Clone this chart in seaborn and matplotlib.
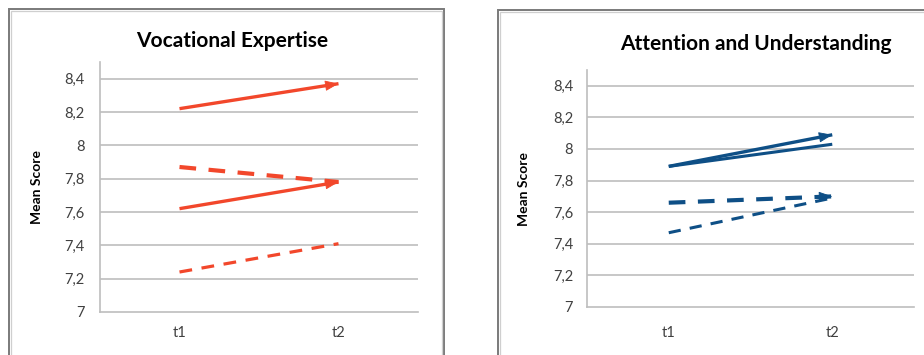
import matplotlib
matplotlib.use("Agg")
import matplotlib.pyplot as plt
from matplotlib.patches import Rectangle
import seaborn as sns

# ---- data -------------------------------------------------------------
time_points = ["t1", "t2"]

voc_solid_high = [8.22, 8.37]
voc_dash_high = [7.87, 7.78]
voc_solid_low = [7.62, 7.78]
voc_dash_low = [7.24, 7.41]

att_solid_arrow = [7.89, 8.09]
att_solid = [7.89, 8.03]
att_dash_arrow = [7.66, 7.70]
att_dash = [7.47, 7.69]

y_ticks = [7.0, 7.2, 7.4, 7.6, 7.8, 8.0, 8.2, 8.4]
y_tick_labels = ["7", "7,2", "7,4", "7,6", "7,8", "8", "8,2", "8,4"]

panel_titles = ["Vocational Expertise", "Attention and Understanding"]
y_title = "Mean Score"

ORANGE = "#F2472B"
BLUE = "#0E4F86"
GRID = "#BEBEBE"
TEXT = "#404040"

# ---- style ------------------------------------------------------------
sns.set_style("white")
plt.rcParams["font.family"] = ["Lato", "DejaVu Sans"]

W, H = 924, 355
fig = plt.figure(figsize=(W / 100, H / 100), dpi=100)


def px_axes(x0, x1, ytop, ybot):
    return fig.add_axes([x0 / W, 1 - ybot / H, (x1 - x0) / W, (ybot - ytop) / H])


def frame(x0, y0, x1, y1):
    # outer dark line with a lighter inner edge, like a chart-area border
    fig.patches.append(Rectangle((x0 / W, 1 - y1 / H), (x1 - x0) / W, (y1 - y0) / H,
                                 transform=fig.transFigure, fill=False,
                                 edgecolor="#7a7a7a", linewidth=1.4, zorder=0))
    fig.patches.append(Rectangle(((x0 + 2) / W, 1 - y1 / H), (x1 - x0 - 4) / W, (y1 - y0 - 2) / H,
                                 transform=fig.transFigure, fill=False,
                                 edgecolor="#cfcfcf", linewidth=0.9, zorder=0))


frame(9, 9, 444, 370)
frame(498, 10, 940, 370)


def draw_series(ax, values, color, lw, ls, arrow):
    sns.lineplot(x=time_points, y=values, ax=ax, color=color, linewidth=lw,
                 linestyle=ls, solid_capstyle="butt", dash_capstyle="butt",
                 sort=False, legend=False)
    if arrow:
        # arrow head placed on the end of the segment, aligned with it
        frac = 0.9
        start = (frac, values[0] + frac * (values[1] - values[0]))
        ax.annotate("", xy=(1, values[1]), xytext=start,
                    arrowprops=dict(arrowstyle="-|>,head_length=0.85,head_width=0.33",
                                    color=color, lw=0.6, shrinkA=0, shrinkB=0,
                                    mutation_scale=10))


def style_axes(ax, label_x, pad_x, pad_y):
    ax.set_xlim(-0.5, 1.5)
    ax.set_ylim(7.0, 8.5)
    ax.set_yticks(y_ticks)
    ax.set_yticklabels(y_tick_labels)
    ax.set_xticks([0, 1])
    ax.set_xticklabels(time_points)
    ax.tick_params(axis="both", length=0, labelsize=10.5, labelcolor=TEXT)
    ax.tick_params(axis="x", pad=pad_x)
    ax.tick_params(axis="y", pad=pad_y)
    for y in y_ticks[1:]:
        ax.axhline(y, color=GRID, linewidth=1.2, zorder=0)
    for side in ("top", "right"):
        ax.spines[side].set_visible(False)
    for side in ("left", "bottom"):
        ax.spines[side].set_color(GRID)
        ax.spines[side].set_linewidth(1.2)
    ax.set_xlabel("")
    ax.set_ylabel(y_title, fontsize=10, fontweight="bold", color="black")
    ax.yaxis.set_label_coords(label_x, 0.5)


# ---- left panel -------------------------------------------------------
ax1 = px_axes(100, 418, 62, 312)
draw_series(ax1, voc_solid_high, ORANGE, 2.4, "-", True)
draw_series(ax1, voc_dash_high, ORANGE, 3.0, (0, (4, 3)), False)
draw_series(ax1, voc_solid_low, ORANGE, 2.4, "-", True)
draw_series(ax1, voc_dash_low, ORANGE, 2.3, (0, (4, 3)), False)
style_axes(ax1, -0.18, 10, 11)

# ---- right panel ------------------------------------------------------
ax2 = px_axes(587, 914, 70, 307)
draw_series(ax2, att_solid_arrow, BLUE, 2.4, "-", True)
draw_series(ax2, att_solid, BLUE, 2.2, "-", False)
draw_series(ax2, att_dash_arrow, BLUE, 3.0, (0, (4, 3)), True)
draw_series(ax2, att_dash, BLUE, 2.2, (0, (4, 3)), False)
style_axes(ax2, -0.175, 14, 10)

fig.text(232 / W, 1 - 41 / H, panel_titles[0], ha="center", va="center",
         fontsize=15, fontweight="bold", color="black")
fig.text(756 / W, 1 - 44 / H, panel_titles[1], ha="center", va="center",
         fontsize=15, fontweight="bold", color="black")

fig.savefig("out.png", dpi=100)
